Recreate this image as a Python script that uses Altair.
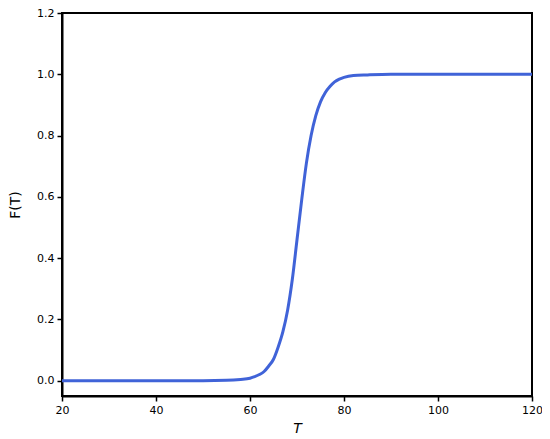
import altair as alt
import pandas as pd

T = [20, 30, 40, 50, 55, 58, 60, 61, 62, 63, 64, 65, 66, 67, 68, 69, 70, 71,
     72, 73, 74, 75, 76, 77, 78, 79, 80, 82, 85, 90, 100, 110, 120]
F = [0.0, 0.0, 0.0, 0.0, 0.001, 0.004, 0.008, 0.013, 0.02, 0.03, 0.048,
     0.07, 0.11, 0.16, 0.23, 0.33, 0.46, 0.59, 0.71, 0.80, 0.865, 0.91, 0.94,
     0.96, 0.975, 0.984, 0.99, 0.996, 0.998, 1.0, 1.0, 1.0, 1.0]

df = pd.DataFrame({"T": T, "F": F})

chart = alt.Chart(df).mark_line(color="#4063d8", strokeWidth=3, interpolate="monotone").encode(
    x=alt.X("T:Q", scale=alt.Scale(domain=[20, 120], nice=False),
            axis=alt.Axis(values=[20, 40, 60, 80, 100, 120], title="T",
                          titleFontStyle="italic", titleFontSize=14, titlePadding=6)),
    y=alt.Y("F:Q", scale=alt.Scale(domain=[-0.05, 1.2], nice=False, zero=False),
            axis=alt.Axis(values=[0, 0.2, 0.4, 0.6, 0.8, 1.0, 1.2], format=".1f",
                          title="F(T)", titleFontSize=14, titlePadding=14)),
).properties(
    width=470, height=383,
    autosize=alt.AutoSizeParams(type="none"),
    padding={"left": 54, "top": 5, "right": 10, "bottom": 40},
).configure_view(
    stroke="black", strokeWidth=2
).configure_axis(
    domainColor="black", domainWidth=2, tickColor="black", tickWidth=1.5, tickSize=5,
    labelFont="DejaVu Sans", titleFont="DejaVu Sans", labelFontSize=11,
    labelColor="black", titleColor="black", titleFontWeight="normal", grid=False,
    labelPadding=3, labelFlush=False, labelOverlap=False, labelBound=False
)

chart.save("out.html", embed_options={"renderer": "svg", "actions": False})
